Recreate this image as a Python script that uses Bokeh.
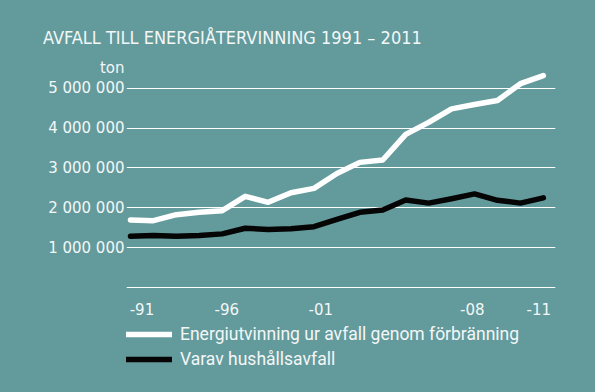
from bokeh.plotting import figure
from bokeh.layouts import column
from bokeh.models import (FixedTicker, Range1d, Legend, LegendItem, ColumnDataSource)
from bokeh.embed import file_html
from bokeh.resources import INLINE

# ---- data ----
points = list(range(19))
energi = [1.70e6, 1.68e6, 1.83e6, 1.89e6, 1.93e6, 2.29e6, 2.14e6, 2.38e6, 2.49e6, 2.86e6,
          3.14e6, 3.20e6, 3.84e6, 4.14e6, 4.48e6, 4.59e6, 4.69e6, 5.11e6, 5.31e6]
hushall = [1.29e6, 1.31e6, 1.29e6, 1.31e6, 1.35e6, 1.49e6, 1.46e6, 1.48e6, 1.53e6, 1.71e6,
           1.89e6, 1.95e6, 2.20e6, 2.12e6, 2.23e6, 2.35e6, 2.19e6, 2.12e6, 2.25e6]
x_tick_pos = [0.5, 4.2, 8.3, 14.9, 17.8]
x_tick_labels = ["-91", "-96", "-01", "-08", "-11"]
y_ticks = [0, 1000000, 2000000, 3000000, 4000000, 5000000]
y_tick_labels = ["", "1 000 000", "2 000 000", "3 000 000", "4 000 000", "5 000 000"]
unit_text = "ton"
unit_label_value = 5500000   # where the unit label sits on the value axis
series_names = ["Energiutvinning ur avfall genom förbränning", "Varav hushållsavfall"]
title_text = "AVFALL TILL ENERGIÅTERVINNING 1991 – 2011"

BG = "#639a9c"
TXT = "#f3f7f7"
W = 595
WHITE_LINE = dict(line_color="white", line_width=5.5, line_cap="round", line_join="round")
BLACK_LINE = dict(line_color="#050505", line_width=5.5, line_cap="round", line_join="round")

# ---- main chart ----
p = figure(width=W, height=320, output_backend="svg", toolbar_location=None,
           x_range=Range1d(-0.174, 18.53), y_range=Range1d(-67600, 5690000),
           min_border_left=126, min_border_right=40, min_border_top=60, min_border_bottom=30,
           styles={"background-color": BG})
p.background_fill_color = BG
p.border_fill_color = BG
p.outline_line_color = None

p.title.text = title_text
p.title.align = "left"
p.title.offset = -83.5
p.title.standoff = 25
p.title.text_color = TXT
p.title.text_font = "DejaVu Sans Condensed"
p.title.text_font_style = "normal"
p.title.text_font_size = "18px"

src = ColumnDataSource(dict(x=points, e=energi, h=hushall))
p.line("x", "e", source=src, **WHITE_LINE)
p.line("x", "h", source=src, **BLACK_LINE)

p.xaxis.ticker = FixedTicker(ticks=x_tick_pos)
p.xaxis.major_label_overrides = {t: l for t, l in zip(x_tick_pos, x_tick_labels)}
axis_ticks = y_ticks + [unit_label_value]
axis_labels = y_tick_labels + [unit_text]
p.yaxis.ticker = FixedTicker(ticks=axis_ticks)
p.yaxis.major_label_overrides = {t: l for t, l in zip(axis_ticks, axis_labels)}
for ax in (p.xaxis[0], p.yaxis[0]):
    ax.axis_line_color = None
    ax.major_tick_line_color = None
    ax.minor_tick_line_color = None
    ax.major_tick_out = 0
    ax.major_tick_in = 0
    ax.minor_tick_out = 0
    ax.major_label_text_color = TXT
    ax.major_label_text_font = "DejaVu Sans"
    ax.major_label_text_font_size = "15px"
p.yaxis.major_label_standoff = 2
p.xaxis.major_label_standoff = 12
p.xgrid.visible = False
p.ygrid.ticker = FixedTicker(ticks=y_ticks)
p.ygrid.grid_line_color = "white"
p.ygrid.grid_line_width = 1.2

# ---- legend strip ----
p_leg = figure(width=W, height=72, output_backend="svg", toolbar_location=None,
               x_axis_type=None, y_axis_type=None,
               x_range=Range1d(0, 1), y_range=Range1d(0, 1),
               min_border_left=126, min_border_right=40, min_border_top=4, min_border_bottom=0,
               styles={"background-color": BG})
p_leg.background_fill_color = BG
p_leg.border_fill_color = BG
p_leg.outline_line_color = None
lsrc = ColumnDataSource(dict(x=points, e=energi, h=hushall))
lr1 = p_leg.line("x", "e", source=lsrc, **WHITE_LINE)
lr2 = p_leg.line("x", "h", source=lsrc, **BLACK_LINE)
legend = Legend(items=[LegendItem(label=series_names[0], renderers=[lr1]),
                       LegendItem(label=series_names[1], renderers=[lr2])],
                location="top_left", orientation="vertical",
                padding=0, margin=0, spacing=5, glyph_width=46, glyph_height=20,
                label_height=20, label_standoff=8,
                border_line_alpha=0, background_fill_alpha=0,
                label_text_color=TXT, label_text_font="Roboto",
                label_text_font_size="17.5px")
p_leg.add_layout(legend, "center")

layout = column(p, p_leg, spacing=0, styles={"background-color": BG})
open("out.html", "w").write(file_html(layout, INLINE, title="Avfall till energiåtervinning"))
